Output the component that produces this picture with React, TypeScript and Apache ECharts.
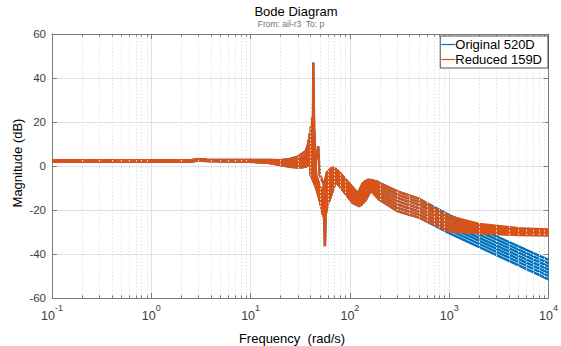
import React, { useEffect, useRef } from "react";
import * as echarts from "echarts";

// ---- data ----
const lowFreq = [0.1, 1, 2.5, 3, 3.6, 10, 15, 20, 25, 30, 33, 36, 38];
const lowMag = [
  [2.6, 2.6, 2.6, 3.1, 2.9, 2.8, 2.7, 2.6, 3.2, 4.3, 5.6, 6.8, 10.0],
  [2.5, 2.5, 2.5, 3.0, 2.8, 2.6, 2.4, 2.1, 2.3, 3.0, 4.0, 5.3, 7.5],
  [2.4, 2.4, 2.4, 2.9, 2.7, 2.4, 2.2, 1.7, 1.6, 2.0, 2.8, 4.0, 5.5],
  [2.3, 2.3, 2.3, 2.8, 2.6, 2.3, 2.0, 1.3, 1.0, 1.2, 1.7, 2.8, 4.2],
  [2.2, 2.2, 2.2, 2.7, 2.5, 2.2, 1.8, 1.0, 0.5, 0.4, 0.8, 1.6, 3.0],
  [2.1, 2.1, 2.1, 2.6, 2.4, 2.0, 1.6, 0.7, 0.0, -0.2, 0.0, 0.6, 1.6],
  [2.0, 2.0, 2.0, 2.5, 2.3, 1.9, 1.4, 0.4, -0.4, -0.7, -0.6, -0.3, 0.4],
];
const resonance: number[][][] = [
  [[38.5, 12], [40.1, -4], [44.9, -9], [50.2, -16], [59.0, -2.5], [79.7, -9.5], [107.7, -17], [135.7, -7.5]],
  [[39.0, 10.5], [39.4, 15], [41.1, -4], [46.2, -10], [52.0, -19], [61.8, -1.5], [83.5, -9.5], [112.8, -17.5], [142.1, -6.8]],
  [[39.6, 9], [40.2, 13], [40.5, 18], [42.2, -4], [47.4, -10.5], [53.2, -22], [64.7, -0.8], [87.5, -9.5], [118.1, -18], [148.8, -6.2]],
  [[40.5, 8.5], [41.3, 14], [41.7, 22], [43.5, -4], [48.7, -11], [54.4, -22], [67.8, -0.5], [91.6, -9.5], [123.7, -18.5], [155.9, -6.0]],
  [[41.3, 7], [42.3, 15], [42.6, 28], [42.7, 47], [44.2, -3], [49.8, -12], [55.0, -24], [56.0, -36.5], [57.0, -22], [71.0, -1.0], [95.9, -9.5], [129.6, -18], [163.3, -6.2]],
  [[42.0, 5], [43.3, 10], [43.7, 16], [45.6, -4], [51.3, -11], [57.7, -20], [74.4, -1.8], [101.6, -9.5], [135.7, -17], [171.0, -6.5]],
  [[44.0, 2.0], [46.9, 4.5], [47.9, 9], [49.6, -4], [55.4, -9], [61.8, -16], [77.9, -2.8], [105.2, -9.5], [142.1, -16], [183.3, -6.8]],
];
const tailFreq = [200, 300, 500];
const tailMag = [
  [-15.5, -20.5, -23.5],
  [-14.2, -19.0, -22.1],
  [-12.9, -17.5, -20.7],
  [-11.6, -16.0, -19.3],
  [-10.3, -14.5, -17.8],
  [-9.0, -13.0, -16.4],
  [-7.8, -11.5, -15.0],
];
const originalTailFreq = [1000, 10000];
const originalTailMag = [
  [-30.5, -51.5],
  [-29.1, -50.0],
  [-27.7, -48.6],
  [-26.4, -47.1],
  [-25.0, -45.6],
  [-23.6, -44.2],
  [-22.3, -42.7],
];
const reducedTailFreq = [700, 1000, 2000, 5000, 10000];
const reducedTailMag = [
  [-26.6, -29.8, -30.6, -31.4, -31.6],
  [-25.3, -28.6, -29.9, -30.9, -31.1],
  [-24.0, -27.5, -29.2, -30.4, -30.7],
  [-22.7, -26.3, -28.5, -29.9, -30.2],
  [-21.5, -25.1, -27.7, -29.3, -29.7],
  [-20.2, -24.0, -27.0, -28.8, -29.3],
  [-19.0, -22.8, -26.3, -28.3, -28.8],
];
const yTicks = [-60, -40, -20, 0, 20, 40, 60];
const decadeStarts = [0.1, 1, 10, 100, 1000];
const minorMultipliers = [2, 3, 4, 5, 6, 7, 8, 9];

const BLUE = "#0072BD";
const ORANGE = "#D95319";
const FONT = "'Liberation Sans', Arial, Helvetica, sans-serif";
const AXIS = "#7a7a7a";
const LABEL = "#3c3c3c";

function buildCurve(k: number, tf: number[], tm: number[][]): number[][] {
  const pts: number[][] = [];
  lowFreq.forEach((f, i) => pts.push([f, lowMag[k][i]]));
  resonance[k].forEach((p) => pts.push([p[0], p[1]]));
  tailFreq.forEach((f, i) => pts.push([f, tailMag[k][i]]));
  tf.forEach((f, i) => pts.push([f, tm[k][i]]));
  return pts;
}

export default function App() {
  const ref = useRef<HTMLDivElement>(null);
  useEffect(() => {
    if (!ref.current) return;
    const chart = echarts.init(ref.current, undefined, { renderer: "svg" });
    const minor: number[] = [];
    decadeStarts.forEach((d) => minorMultipliers.forEach((m) => minor.push(d * m)));

    const series: any[] = [];
    series.push({
      type: "line",
      name: "_grid",
      data: [[1, 0]],
      symbol: "none",
      lineStyle: { opacity: 0 },
      silent: true,
      z: 1,
      markLine: {
        silent: true,
        symbol: "none",
        animation: false,
        label: { show: false },
        lineStyle: { color: "#e2e2e2", type: [1.5, 2], width: 1 },
        data: minor.map((v) => ({ xAxis: v })),
      },
    });
    series.push({
      type: "line",
      name: "_ticks",
      data: [[1, 0]],
      symbol: "none",
      lineStyle: { opacity: 0 },
      silent: true,
      z: 5,
      markLine: {
        silent: true,
        symbol: "none",
        animation: false,
        label: { show: false },
        lineStyle: { color: AXIS, type: "solid", width: 1 },
        data: [
          ...minor.map((v) => [{ coord: [v, -60] }, { coord: [v, -58.8] }]),
          ...minor.map((v) => [{ coord: [v, 60] }, { coord: [v, 58.8] }]),
        ],
      },
    });
    for (let k = 0; k < 7; k++) {
      series.push({
        type: "line",
        name: "Original 520D",
        data: buildCurve(k, originalTailFreq, originalTailMag),
        symbol: "none",
        showSymbol: false,
        lineStyle: { color: BLUE, width: 2.4 },
        itemStyle: { color: BLUE },
        silent: true,
        z: 2,
      });
    }
    for (let k = 0; k < 7; k++) {
      series.push({
        type: "line",
        name: "Reduced 159D",
        data: buildCurve(k, reducedTailFreq, reducedTailMag),
        symbol: "none",
        showSymbol: false,
        lineStyle: { color: ORANGE, width: 2.4 },
        itemStyle: { color: ORANGE },
        silent: true,
        z: 3,
      });
    }

    const xBase = {
      type: "log",
      logBase: 10,
      min: 0.1,
      max: 10000,
      axisLine: { show: true, onZero: false, lineStyle: { color: AXIS, width: 1 } },
      axisTick: { show: true, inside: true, length: 5, lineStyle: { color: AXIS } },
      minorTick: { show: false },
    };
    const yBase = {
      type: "value",
      min: -60,
      max: 60,
      interval: 20,
      axisLine: { show: true, onZero: false, lineStyle: { color: AXIS, width: 1 } },
      axisTick: { show: true, inside: true, length: 5, lineStyle: { color: AXIS } },
    };

    chart.setOption({
      animation: false,
      backgroundColor: "#ffffff",
      textStyle: { fontFamily: FONT },
      grid: { left: 52, right: 11, top: 34, bottom: 48, containLabel: false },
      legend: {
        data: [
          { name: "Original 520D", icon: "rect", itemStyle: { color: BLUE } },
          { name: "Reduced 159D", icon: "rect", itemStyle: { color: ORANGE } },
        ],
        orient: "vertical",
        right: 13,
        top: 36,
        z: 20,
        itemWidth: 14,
        itemHeight: 1.2,
        itemGap: 2,
        padding: [2, 6, 2, 1],
        borderColor: "#262626",
        borderWidth: 0.8,
        borderRadius: 0,
        backgroundColor: "#ffffff",
        textStyle: { fontSize: 13, color: "#000", fontFamily: FONT, padding: [0, 0, 0, -5] },
        selectedMode: false,
      },
      xAxis: [
        {
          ...xBase,
          position: "bottom",
          splitLine: { show: true, lineStyle: { color: "#e0e0e0", width: 1 } },
          axisLabel: {
            show: true,
            margin: 5,
            color: LABEL,
            formatter: (v: number) => `{b|10}{s|${Math.round(Math.log10(v))}}`,
            rich: {
              b: { fontSize: 12.5, fontFamily: FONT, color: LABEL, verticalAlign: "bottom", lineHeight: 19 },
              s: { fontSize: 9, fontFamily: FONT, color: LABEL, verticalAlign: "top", lineHeight: 19 },
            },
          },
        },
        {
          ...xBase,
          position: "top",
          splitLine: { show: false },
          axisLabel: { show: false },
        },
      ],
      yAxis: [
        {
          ...yBase,
          position: "left",
          splitLine: { show: true, lineStyle: { color: "#e0e0e0", width: 1 } },
          axisLabel: { show: true, margin: 6, fontSize: 11.5, color: LABEL, fontFamily: FONT },
          data: yTicks,
        },
        {
          ...yBase,
          position: "right",
          splitLine: { show: false },
          axisLabel: { show: false },
        },
      ],
      graphic: [
        {
          type: "text",
          x: 296,
          y: 11,
          style: { text: "Bode Diagram", fontSize: 13, fontFamily: FONT, fill: "#000", textAlign: "center", textVerticalAlign: "middle" },
        },
        {
          type: "text",
          x: 291,
          y: 24,
          style: { text: "From: ail-r3  To: p", fontSize: 8.5, fontFamily: FONT, fill: "#707070", textAlign: "center", textVerticalAlign: "middle" },
        },
        {
          type: "text",
          x: 17,
          y: 163,
          rotation: Math.PI / 2,
          style: { text: "Magnitude (dB)", fontSize: 13, fontFamily: FONT, fill: "#000", textAlign: "center", textVerticalAlign: "middle" },
        },
        {
          type: "text",
          x: 292,
          y: 338,
          style: { text: "Frequency  (rad/s)", fontSize: 13, fontFamily: FONT, fill: "#000", textAlign: "center", textVerticalAlign: "middle" },
        },
      ],
      series,
    });
    return () => chart.dispose();
  }, []);
  return (
    <div
      ref={ref}
      style={{ position: "absolute", left: 0, top: 0, width: 561, height: 346, background: "#fff" }}
    />
  );
}
